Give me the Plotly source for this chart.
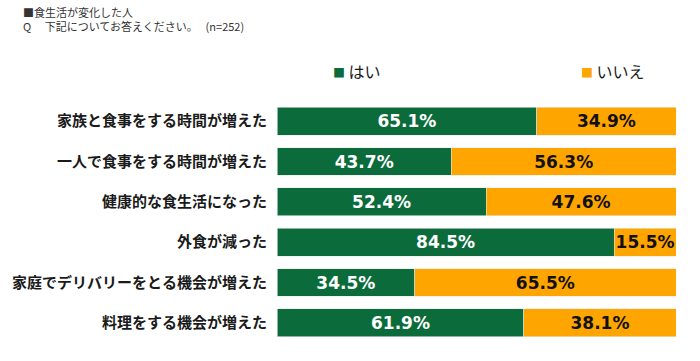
import plotly.graph_objects as go

categories = [
    "家族と食事をする時間が増えた",
    "一人で食事をする時間が増えた",
    "健康的な食生活になった",
    "外食が減った",
    "家庭でデリバリーをとる機会が増えた",
    "料理をする機会が増えた",
]
yes_values = [65.1, 43.7, 52.4, 84.5, 34.5, 61.9]
no_values = [34.9, 56.3, 47.6, 15.5, 65.5, 38.1]
series_names = ["はい", "いいえ"]

GREEN = "#0B6B3B"
ORANGE = "#FFA500"
JP = "Noto Sans CJK JP"
NUM = "DejaVu Sans"

W, H = 700, 361
L, R, T, B = 277, 24, 101, 18
PW = W - L - R
PH = H - T - B


def px_x(p):
    return (p - L) / PW


def px_y(p):
    return 1 - (p - T) / PH


fig = go.Figure()
fig.add_trace(go.Bar(
    y=categories, x=yes_values, orientation="h", name=series_names[0],
    marker=dict(color=GREEN, line=dict(color="#e8e8e8", width=0.6)),
    text=[f"{v:.1f}%" for v in yes_values], textposition="inside",
    insidetextanchor="middle",
    textfont=dict(family=NUM, size=17, color="white", weight="bold"),
))
fig.add_trace(go.Bar(
    y=categories, x=no_values, orientation="h", name=series_names[1],
    marker=dict(color=ORANGE, line=dict(color="#e8e8e8", width=0.6)),
    text=[f"{v:.1f}%" for v in no_values], textposition="inside",
    insidetextanchor="middle",
    textfont=dict(family=NUM, size=17, color="#111111", weight="bold"),
))

fig.update_layout(
    barmode="stack",
    bargap=0.31,
    width=W, height=H,
    margin=dict(l=L, r=R, t=T, b=B, autoexpand=False),
    plot_bgcolor="white", paper_bgcolor="white",
    showlegend=False,
    uniformtext=dict(mode="show", minsize=17),
    xaxis=dict(range=[0, 100], visible=False, fixedrange=True),
    yaxis=dict(autorange="reversed", showgrid=False, zeroline=False,
               showline=False, ticks="outside", ticklen=6, tickcolor="rgba(0,0,0,0)",
               automargin=False,
               tickfont=dict(family=JP, size=15, color="#1a1a1a", weight="bold")),
    font=dict(family=JP),
)

fig.add_annotation(
    xref="paper", yref="paper", x=px_x(22), y=px_y(18.5),
    xanchor="left", yanchor="middle", showarrow=False, align="left", borderpad=0,
    text="■食生活が変化した人<br>Q　 下記についてお答えください。　 (n=252)",
    font=dict(family=JP, size=11, color="#333333"),
)

legend_items = [(series_names[0], GREEN, 331), (series_names[1], ORANGE, 579)]
for name, color, px in legend_items:
    fig.add_annotation(
        xref="paper", yref="paper", x=px_x(px), y=px_y(71),
        xanchor="left", yanchor="middle", showarrow=False,
        text=f"<span style='font-size:12px;color:{color}'>■</span> {name}",
        font=dict(family=JP, size=16, color="#1a1a1a"),
    )

fig.write_html(
    "out.html",
    config={"displayModeBar": False},
    post_script="document.body.style.margin='0';document.body.style.overflow='hidden';",
)
